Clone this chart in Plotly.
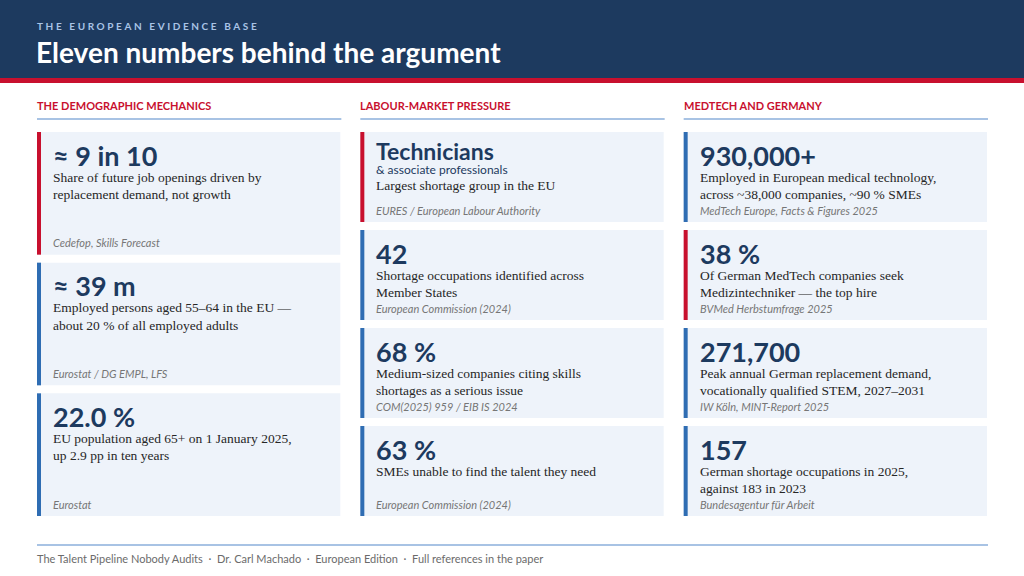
import plotly.graph_objects as go

# ---- content -------------------------------------------------------------
kicker = "THE EUROPEAN EVIDENCE BASE"
title = "Eleven numbers behind the argument"
sections = ["THE DEMOGRAPHIC MECHANICS", "LABOUR-MARKET PRESSURE", "MEDTECH AND GERMANY"]

figures = [
    ["≈ 9 in 10", "≈ 39 m", "22.0 %"],
    ["Technicians", "42", "68 %", "63 %"],
    ["930,000+", "38 %", "271,700", "157"],
]
subtitles = [
    ["", "", ""],
    ["& associate professionals", "", "", ""],
    ["", "", "", ""],
]
descriptions = [
    [
        "Share of future job openings driven by<br>replacement demand, not growth",
        "Employed persons aged 55–64 in the EU —<br>about 20 % of all employed adults",
        "EU population aged 65+ on 1 January 2025,<br>up 2.9 pp in ten years",
    ],
    [
        "Largest shortage group in the EU",
        "Shortage occupations identified across<br>Member States",
        "Medium-sized companies citing skills<br>shortages as a serious issue",
        "SMEs unable to find the talent they need",
    ],
    [
        "Employed in European medical technology,<br>across ~38,000 companies, ~90 % SMEs",
        "Of German MedTech companies seek<br>Medizintechniker — the top hire",
        "Peak annual German replacement demand,<br>vocationally qualified STEM, 2027–2031",
        "German shortage occupations in 2025,<br>against 183 in 2023",
    ],
]
sources = [
    ["Cedefop, Skills Forecast", "Eurostat / DG EMPL, LFS", "Eurostat"],
    ["EURES / European Labour Authority", "European Commission (2024)",
     "COM(2025) 959 / EIB IS 2024", "European Commission (2024)"],
    ["MedTech Europe, Facts & Figures 2025", "BVMed Herbstumfrage 2025",
     "IW Köln, MINT-Report 2025", "Bundesagentur für Arbeit"],
]
highlight = [
    [True, False, False],
    [True, False, False, False],
    [False, True, False, False],
]
footer = ["The Talent Pipeline Nobody Audits", "Dr. Carl Machado",
          "European Edition", "Full references in the paper"]

# ---- style ---------------------------------------------------------------
W, H = 1024, 576
NAVY = "#1d3a5f"
RED = "#c8102e"
BLUE = "#2f6db3"
PALE = "#a8c3e4"
CARD = "#eef3fa"
SANS = "Lato"
SERIF = "Liberation Serif"

LEFT, RIGHT = 37, 987
GAP = 20
COLW = (RIGHT - LEFT - 2 * GAP) / 3
TOP, BOTTOM = 132, 516
VGAP = 8
PAD = 2  # annotation box padding, pulled back so glyphs sit on the grid

shapes = []
annotations = []


def rect(x0, y0, x1, y1, color):
    shapes.append(dict(type="rect", xref="x", yref="y", x0=x0, y0=y0, x1=x1, y1=y1,
                       fillcolor=color, line=dict(width=0), layer="below"))


def line(x0, y0, x1, y1, color, width):
    shapes.append(dict(type="line", xref="x", yref="y", x0=x0, y0=y0, x1=x1, y1=y1,
                       line=dict(color=color, width=width)))


def text(x, y, s, size, color, family=SANS, weight="normal", style="normal"):
    annotations.append(dict(x=x - PAD, y=y, xref="x", yref="y", text=s, showarrow=False,
                            xanchor="left", yanchor="middle", align="left",
                            font=dict(family=family, size=size, color=color,
                                      weight=weight, style=style)))


# header band
rect(0, 0, W, 78, NAVY)
rect(0, 78, W, 83, RED)
text(LEFT, 26, '<span style="letter-spacing:2.6px">' + kicker + "</span>",
     10, "#a9c4e6", weight="bold")
text(LEFT - 1, 52, title, 28, "white", weight="bold")

# columns
for c, head in enumerate(sections):
    x0 = LEFT + c * (COLW + GAP)
    x1 = x0 + COLW
    text(x0, 105, head, 11, RED, weight="bold")
    line(x0, 119, x1 + 1, 119, PALE, 2)

    n = len(figures[c])
    h = (BOTTOM - TOP - VGAP * (n - 1)) / n
    for r in range(n):
        y0 = TOP + r * (h + VGAP)
        y1 = y0 + h
        rect(x0, y0, x1, y1, CARD)
        rect(x0, y0, x0 + 4, y1, RED if highlight[c][r] else BLUE)
        tx = x0 + 16
        if subtitles[c][r]:
            text(tx, y0 + 18.5, figures[c][r], 23, NAVY, weight="bold")
            text(tx, y0 + 37.5, subtitles[c][r], 12, NAVY)
            d0 = y0 + 53
        else:
            text(tx, y0 + 23, figures[c][r], 27, NAVY, weight="bold")
            d0 = y0 + 45
        for k, ln in enumerate(descriptions[c][r].split("<br>")):
            text(tx, d0 + 17.5 * k, ln, 13.5, "#262626", family=SERIF)
        text(tx, y1 - 12, sources[c][r], 11, "#767676", style="italic")

# footer
line(LEFT, 545, RIGHT + 1, 545, PALE, 2)
text(LEFT, 558, "  ·  ".join(footer), 11, "#6b6b6b")

fig = go.Figure()
fig.update_layout(
    width=W, height=H,
    margin=dict(l=0, r=0, t=0, b=0),
    paper_bgcolor="white", plot_bgcolor="white",
    xaxis=dict(range=[0, W], visible=False, fixedrange=True),
    yaxis=dict(range=[H, 0], visible=False, fixedrange=True),
    shapes=shapes, annotations=annotations,
    showlegend=False,
)
fig.write_html(
    "out.html",
    config={"displayModeBar": False},
    post_script="document.body.style.margin='0';document.body.style.overflow='hidden';",
)
